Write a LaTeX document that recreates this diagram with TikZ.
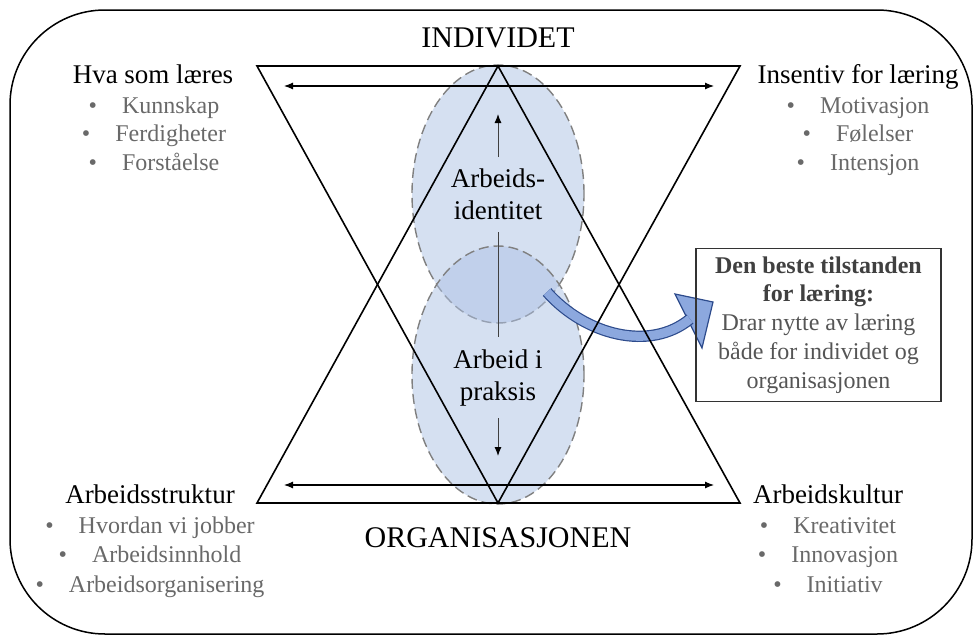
\documentclass[tikz,border=0pt]{standalone}
\usepackage{fontspec}
\setmainfont{Liberation Serif}
\usetikzlibrary{arrows.meta,shapes.geometric}
\definecolor{blobfill}{RGB}{172,193,228}
\definecolor{blobline}{RGB}{128,128,128}
\definecolor{itemgray}{RGB}{105,105,105}
\definecolor{boxtext}{RGB}{85,85,85}
\definecolor{boxhead}{RGB}{64,64,64}
\definecolor{arrowfill}{RGB}{140,168,222}
\definecolor{arrowdark}{RGB}{45,75,140}
\begin{document}
\begin{tikzpicture}[x=1pt,y=-1pt,
  frame/.style={line width=1.5pt, rounded corners=95pt},
  tri/.style={line width=1.6pt, line join=miter},
  harrow/.style={line width=1.1pt, {Latex[length=9pt,width=7pt]}-{Latex[length=9pt,width=7pt]}},
  blob/.style={ellipse, draw=blobline, dash pattern=on 10pt off 5pt, line width=1.4pt,
    fill=blobfill, fill opacity=0.5, draw opacity=1,
    minimum width=172pt, minimum height=258pt, inner sep=0pt},
  big/.style={font=\fontsize{30}{36}\selectfont, inner sep=0pt, anchor=base},
  head/.style={font=\fontsize{27}{32}\selectfont, inner sep=0pt, anchor=base},
  item/.style={font=\fontsize{24}{28}\selectfont, text=itemgray, inner sep=0pt, anchor=base},
  midlabel/.style={font=\fontsize{27}{32}\selectfont, align=center, inner xsep=0pt, inner ysep=12pt},
  vline/.style={line width=1pt, draw=black!75},
  vtip/.style={-{Latex[length=9pt,width=7pt,color=black]}},
  infobox/.style={draw=black!80, line width=1.5pt, align=center,
    font=\fontsize{24}{28.75}\selectfont, text=boxtext,
    minimum width=245pt, minimum height=153pt, inner ysep=8pt}
]
\useasboundingbox (0,0) rectangle (975,637);
% outer frame
\draw[frame] (10,10) rectangle (972,634);

% ellipses
\node[blob] (e1) at (498,194) {};
\node[blob] (e2) at (498,375) {};

% curved arrow
\coordinate (cs) at (547,292);
\coordinate (ce) at (690,319);
\filldraw[fill=arrowfill, draw=arrowdark, line width=1.2pt, line join=miter]
  (675,294) -- (713,302) -- (702,348) -- cycle;
\draw[line width=1.2pt, draw=arrowdark, double=arrowfill, double distance=9pt]
  (cs) .. controls (585,335) and (650,352) .. (ce);

% triangles
\coordinate (tl) at (257,66);
\coordinate (tr) at (740,66);
\coordinate (tc) at (498,66);
\coordinate (bl) at (257,503);
\coordinate (br) at (740,503);
\coordinate (bc) at (498,503);
\draw[tri] (tl) -- (tr) -- (bc) -- cycle;
\draw[tri] (bl) -- (br) -- (tc) -- cycle;

% horizontal arrows
\coordinate (ha1) at (284,86);
\coordinate (ha2) at (714,86);
\coordinate (hb1) at (284,485);
\coordinate (hb2) at (714,485);
\draw[harrow] (ha1) -- (ha2);
\draw[harrow] (hb1) -- (hb2);

% central labels and arrows
\node[midlabel] (id) at (498,194.75) {Arbeids-\\identitet};
\node[midlabel] (pr) at (498,377.7) {Arbeid i\\praksis};
\coordinate (upT) at (498,114);
\coordinate (dnT) at (498,456);
\draw[vline,vtip] (id.north) -- (upT);
\draw[vline] (id.south) -- (pr.north);
\draw[vline,vtip] (pr.south) -- (dnT);

% big labels
\node[big] (ind) at (498,47) {INDIVIDET};
\node[big] (org) at (498,547) {ORGANISASJONEN};

% top-left
\node[head] (hva) at (153,83) {Hva som læres};
\node[item] (hva1) at (154,113) {\textbullet\hspace{25pt}Kunnskap};
\node[item] (hva2) at (154,141.5) {\textbullet\hspace{25pt}Ferdigheter};
\node[item] (hva3) at (154,170) {\textbullet\hspace{25pt}Forståelse};

% top-right
\node[head] (ins) at (858,83) {Insentiv for læring};
\node[item] (ins1) at (858,113) {\textbullet\hspace{25pt}Motivasjon};
\node[item] (ins2) at (858,141.5) {\textbullet\hspace{25pt}Følelser};
\node[item] (ins3) at (858,170) {\textbullet\hspace{25pt}Intensjon};

% bottom-left
\node[head] (as) at (150,503) {Arbeidsstruktur};
\node[item] (as1) at (150,533) {\textbullet\hspace{25pt}Hvordan vi jobber};
\node[item] (as2) at (150,562.5) {\textbullet\hspace{25pt}Arbeidsinnhold};
\node[item] (as3) at (150,592) {\textbullet\hspace{25pt}Arbeidsorganisering};

% bottom-right
\node[head] (ak) at (828,503) {Arbeidskultur};
\node[item] (ak1) at (828,533) {\textbullet\hspace{25pt}Kreativitet};
\node[item] (ak2) at (828,562.5) {\textbullet\hspace{25pt}Innovasjon};
\node[item] (ak3) at (828,592) {\textbullet\hspace{25pt}Initiativ};

% info box
\node[infobox] (box) at (818.5,324.9) {\textbf{\color{boxhead}Den beste tilstanden}\\
  \textbf{\color{boxhead}for læring:}\\
  Drar nytte av læring\\
  både for individet og\\
  organisasjonen};
\end{tikzpicture}
\end{document}
